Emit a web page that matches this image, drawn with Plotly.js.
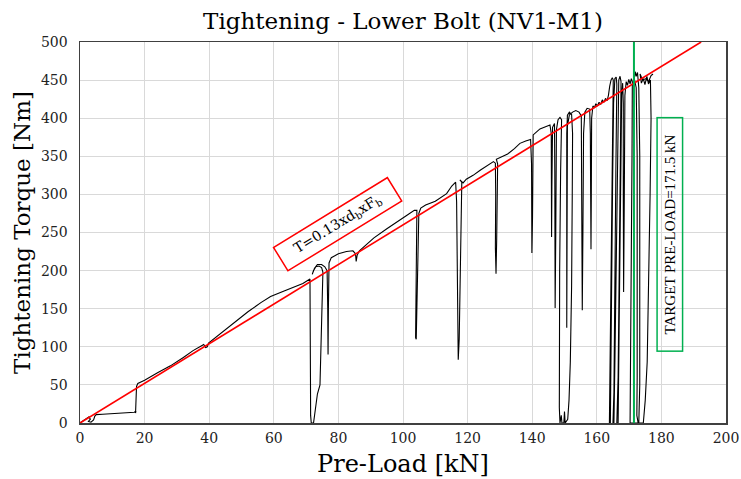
<!DOCTYPE html>
<html>
<head>
<meta charset="utf-8">
<script src="https://cdn.plot.ly/plotly-3.0.1.min.js"></script>
<style>html,body{margin:0;padding:0;background:#fff;}#chart{width:741px;height:479px;}</style>
</head>
<body>
<div id="chart"></div>
<script>
// Measured tightening curve: pre-load [kN] vs torque [Nm]
const preloadKN = [0,0.8,1.5,2.2,2.8,3.2,2.6,3.4,4.2,4.6,5,7,10,13,15.5,16.8,17.3,17.2,17.3,17.4,17.5,17.9,20,24,28,32,35,37.5,38.3,38.9,39.4,39.8,41,44,48.5,52,56,59,63,66,69,71.2,
71.3,71.35,71.4,71.6,72.3,72.7,73.5,74.3,74.7,75.0,75.2,74.8,74,73,72.3,71.9,72.6,73.5,74.8,75.8,76.5,76.7,76.8,76.9,77.1,77.8,80,82.5,84.5,85.3,85.5,85.8,86.5,88,91,95,98,101,103.5,104.3,
104.2,104.0,103.9,104.1,104.3,104.6,104.9,105.5,107,110,111.5,113.5,115.1,116.3,116.6,116.8,117.1,117.4,117.9,118.3,118.2,117.6,118.6,119.6,121.7,124,126,128,128.6,128.7,128.6,128.8,129.0,129.2,129.3,128.9,130,132.4,134.5,136.2,138,139.5,139.8,139.8,139.9,140.1,140.2,140.3,142.4,144,145.5,
145.9,145.9,146.0,146.1,146.3,146.9,147.0,147.0,147.1,147.3,147.5,148,148.6,149.1,148.8,148.5,148.3,148.4,148.6,149.0,149.2,149.8,150.0,150.2,151,151.4,151.8,152.2,152.4,152.5,152.2,151.5,150.9,150.7,150.7,150.7,150.8,150.9,151.5,152.5,153.5,154.5,155.2,155.3,155.4,155.5,155.7,155.9,156.3,157,157.8,158.0,158.1,158.2,158.3,158.4,158.8,159.3,159.7,160.2,160.7,161.2,161.7,162.2,162.7,163.2,163.6,
164.0,164.4,164.8,165.1,164.9,164.6,164.3,164.0,163.9,164.2,164.3,164.6,164.9,165.2,165.6,166.0,166.2,165.9,165.6,165.3,165.0,165.3,165.6,166.0,166.4,166.8,167.2,167.5,167.3,167.0,166.6,166.2,166.6,166.9,167.3,167.7,168.0,168.2,168.2,168.3,168.5,168.7,169.1,169.5,169.9,170.3,170.7,171.0,170.9,170.7,170.5,170.3,171,172,173,173.3,173.4,173.3,173.0,172.6,172.2,171.9,171.6,172.2,172.5,172.6,172.5,172.4,172.8,174.4,175.0,175.6,176.1,176.5,176.8,176.6,176.0,175.5,174.9,174.4,173.8,173.4,174.2,175.2,176,176.8,177.4];
const torqueNm = [0,2,4,6,8,5,2,1,4,9,11,11.5,12,13,13.5,14,16,13,25,40,48,52,56,66,75,86,95,101,103,99,100,105,109,119,135,146,158,166,173,178,183,189,
150,60,10,0,0,15,38,50,120,180,198,204,206,205,200,195,203,208,208,205,200,150,90,150,210,217,222,225,226,222,212,220,226,232,243,255,264,272,279,279,
240,180,112,110,160,230,275,282,286,291,295,301,311,316,290,180,83,110,220,300,316,319,315,320,325,332,337,343,341,300,230,196,240,310,340,346,348,353,360,367,370,372,340,260,223,270,350,378,386,389,391,
380,300,244,310,388,393,330,200,151,250,385,398,401,398,330,200,80,20,0,10,0,0,15,0,5,30,80,180,300,380,405,408,404,380,250,125,250,390,404,408,410,408,403,350,250,148,250,380,408,413,412,380,300,228,300,400,416,414,419,416,421,418,424,421,426,423,430,
442,450,453,450,380,250,120,30,0,0,60,200,320,420,452,454,445,330,180,40,0,0,80,230,380,450,455,448,350,200,60,0,0,120,300,430,446,420,300,172,290,430,448,443,451,445,452,448,350,200,50,0,0,0,0,50,200,350,440,460,455,461,452,440,350,200,60,10,0,0,30,80,180,300,400,450,445,455,444,452,446,458,450,452,448,456,458];

// Reference relation T = 0.13 x d_b x F_b and target pre-load
const fitLineKN = [0, 192.3];
const fitLineNm = [0, 500];
const targetKN = [171.5, 171.5];
const targetNm = [0, 500];

const xTicks = [0,20,40,60,80,100,120,140,160,180,200];
const yTicks = [0,50,100,150,200,250,300,350,400,450,500];

const serif = 'DejaVu Serif, serif';

const traces = [
  {x: preloadKN, y: torqueNm, mode: 'lines', line: {color: '#000000', width: 1.1}, hoverinfo: 'skip', showlegend: false},
  {x: fitLineKN, y: fitLineNm, mode: 'lines', line: {color: '#ff0000', width: 1.6}, showlegend: false},
  {x: targetKN, y: targetNm, mode: 'lines', line: {color: '#00b050', width: 2}, showlegend: false}
];

const axisCommon = {
  showgrid: true, gridcolor: '#d9d9d9', gridwidth: 1,
  showline: true, linecolor: '#404040', linewidth: 1.5, mirror: true,
  ticks: '', zeroline: false,
  tickfont: {family: serif, size: 14, color: '#222'}
};

const layout = {
  width: 741, height: 479,
  margin: {l: 80, r: 15, t: 42, b: 56},
  paper_bgcolor: '#ffffff', plot_bgcolor: '#ffffff',
  title: {text: 'Tightening - Lower Bolt (NV1-M1)', font: {family: serif, size: 23, color: '#000'},
          x: 0.5, xref: 'paper', xanchor: 'center', y: 0.956, yref: 'container', yanchor: 'middle'},
  xaxis: Object.assign({}, axisCommon, {range: [0, 200], tickvals: xTicks, ticklabelstandoff: 2,
          title: {text: 'Pre-Load [kN]', font: {family: serif, size: 24, color: '#000'}, standoff: 10}}),
  yaxis: Object.assign({}, axisCommon, {range: [0, 500], tickvals: yTicks, ticklabelstandoff: 8,
          title: {text: 'Tightening Torque [Nm]', font: {family: serif, size: 23, color: '#000'}, standoff: 4}}),
  annotations: [
    {x: 79.6, y: 261, xref: 'x', yref: 'y', showarrow: false, textangle: -31.5,
     text: 'T=0.13xd<sub>b</sub>xF<sub>b</sub>', font: {family: serif, size: 14, color: '#000'},
     bordercolor: '#ff0000', borderwidth: 1.5, borderpad: 4, width: 124, height: 18, bgcolor: 'rgba(255,255,255,0)'},
    {x: 182.7, y: 247, xref: 'x', yref: 'y', showarrow: false, textangle: -90,
     text: 'TARGET PRE-LOAD=171.5 kN', font: {family: 'Liberation Serif, serif', size: 15, color: '#000'},
     bordercolor: '#00b050', borderwidth: 1.5, borderpad: 4, width: 224, height: 16}
  ]
};

Plotly.newPlot('chart', traces, layout, {displayModeBar: false, staticPlot: true});
</script>
</body>
</html>
